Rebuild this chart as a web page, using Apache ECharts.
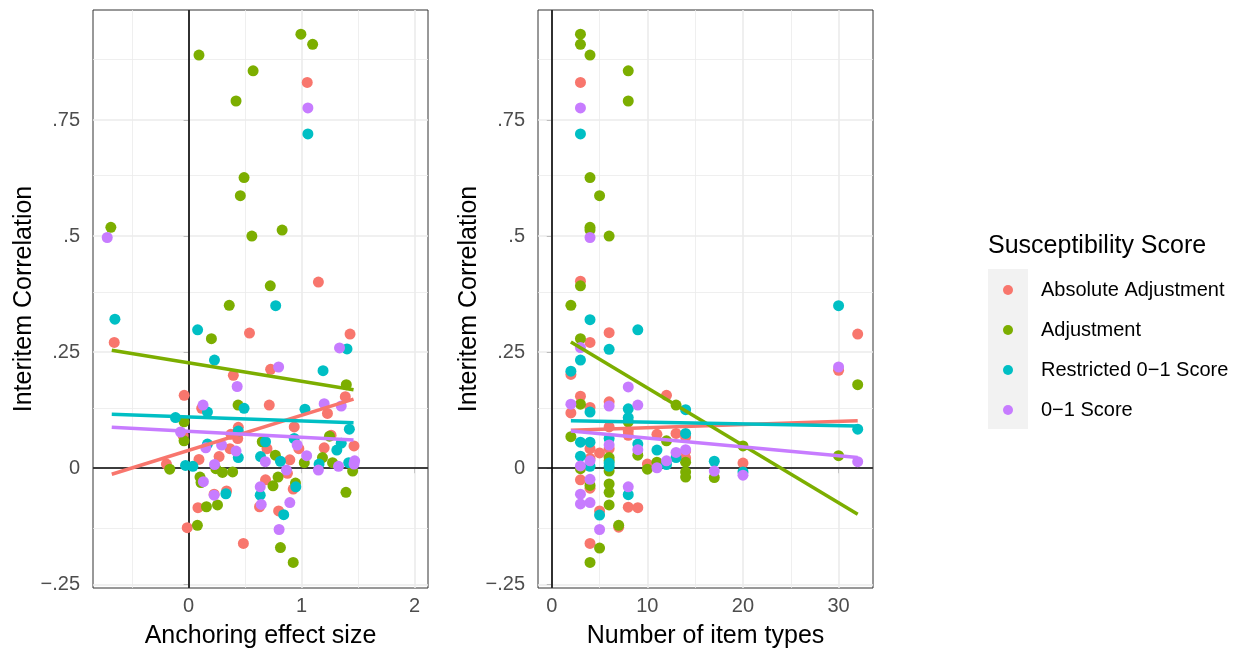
<!DOCTYPE html>
<html><head><meta charset="utf-8">
<script src="https://cdn.jsdelivr.net/npm/echarts@6/dist/echarts.min.js"></script>
<style>html,body{margin:0;padding:0;background:#fff}#c{width:1245px;height:654px}</style>
</head><body><div id="c"></div>
<script>
// ---------- DATA ----------
const seriesNames = ['Absolute Adjustment', 'Adjustment', 'Restricted 0\u22121 Score', '0\u22121 Score'];
const seriesColors = ['#F8766D', '#7CAE00', '#00BFC4', '#C77CFF'];

// Left panel: [anchoring effect size, interitem correlation]
const leftAbs = [[1.05,0.831],[1.149,0.401],[0.539,0.291],[-0.658,0.271],[1.429,0.289],[0.726,0.213],[0.396,0.2],[-0.039,0.157],[1.387,0.154],[0.714,0.136],[0.116,0.129],[1.229,0.118],[0.935,0.089],[0.44,0.088],[0.375,0.073],[-0.048,0.07],[1.261,0.071],[0.435,0.064],[1.464,0.048],[1.2,0.044],[0.366,0.042],[0.694,0.042],[0.976,0.042],[0.27,0.025],[0.092,0.019],[0.896,0.018],[-0.196,0.009],[0.875,-0.011],[0.681,-0.025],[0.926,-0.045],[0.336,-0.049],[0.226,-0.056],[0.628,-0.083],[0.083,-0.085],[0.797,-0.092],[-0.012,-0.128],[0.485,-0.162]];
const leftAdj = [[0.994,0.935],[1.098,0.913],[0.092,0.89],[0.571,0.856],[0.42,0.791],[0.491,0.626],[0.458,0.587],[-0.688,0.519],[0.828,0.513],[0.56,0.5],[0.723,0.393],[0.36,0.351],[0.202,0.279],[1.396,0.18],[0.438,0.136],[-0.04,0.1],[1.247,0.069],[-0.04,0.059],[0.652,0.057],[0.768,0.028],[1.185,0.023],[1.024,0.012],[1.274,0.012],[-0.167,-0.002],[0.241,-0.001],[1.452,-0.006],[0.3,-0.009],[0.39,-0.008],[0.101,-0.019],[0.792,-0.019],[0.11,-0.031],[0.946,-0.032],[0.747,-0.038],[1.393,-0.052],[0.158,-0.083],[0.256,-0.079],[0.078,-0.123],[0.813,-0.171],[0.926,-0.203]];
const leftRes = [[1.056,0.72],[0.771,0.35],[-0.652,0.321],[0.08,0.298],[1.402,0.257],[0.229,0.233],[1.19,0.21],[0.491,0.129],[1.03,0.127],[0.167,0.121],[-0.116,0.109],[1.423,0.084],[0.44,0.08],[0.935,0.064],[0.681,0.057],[1.351,0.054],[0.167,0.052],[1.312,0.039],[0.44,0.023],[0.637,0.025],[0.813,0.015],[1.417,0.012],[1.155,0.009],[-0.027,0.006],[0.038,0.004],[0.949,-0.04],[0.33,-0.055],[0.634,-0.058],[0.842,-0.1]];
const leftZO = [[1.056,0.776],[-0.72,0.497],[1.336,0.259],[0.797,0.218],[0.43,0.176],[1.2,0.139],[0.128,0.136],[1.351,0.134],[-0.071,0.078],[0.152,0.044],[0.292,0.05],[0.961,0.05],[0.42,0.037],[1.045,0.027],[0.679,0.014],[1.47,0.016],[1.464,0.009],[0.23,0.008],[1.327,0.004],[1.149,-0.004],[0.866,-0.004],[0.131,-0.029],[0.634,-0.04],[0.226,-0.058],[0.896,-0.074],[0.643,-0.078],[0.801,-0.132]];

// Right panel: [number of item types, interitem correlation]
const rightAbs = [[3,0.831],[3,0.403],[6,0.292],[4,0.271],[32,0.289],[30,0.211],[2,0.202],[12,0.157],[3,0.155],[6,0.143],[4,0.131],[2,0.119],[6,0.089],[8,0.08],[11,0.073],[13,0.075],[14,0.067],[8,0.071],[4,0.042],[6,0.042],[14,0.037],[5,0.033],[4,0.021],[14,0.022],[20,0.011],[10,0.009],[3,-0.025],[4,-0.043],[8,-0.084],[9,-0.085],[5,-0.092],[7,-0.127],[4,-0.162]];
const rightAdj = [[3,0.935],[3,0.913],[4,0.89],[8,0.856],[8,0.791],[4,0.626],[5,0.587],[4,0.519],[4,0.513],[6,0.5],[3,0.393],[2,0.351],[3,0.279],[32,0.18],[13,0.136],[3,0.138],[8,0.1],[2,0.068],[12,0.059],[20,0.048],[9,0.028],[30,0.027],[6,0.023],[6,0.016],[11,0.013],[14,0.013],[3,-0.001],[10,-0.002],[6,-0.006],[14,-0.008],[14,-0.019],[17,-0.02],[4,-0.037],[6,-0.034],[6,-0.052],[6,-0.079],[7,-0.123],[5,-0.172],[4,-0.203]];
const rightRes = [[3,0.72],[30,0.35],[4,0.32],[9,0.298],[6,0.256],[3,0.233],[2,0.209],[8,0.128],[14,0.126],[4,0.121],[8,0.109],[32,0.084],[14,0.075],[6,0.064],[3,0.056],[4,0.056],[9,0.052],[11,0.039],[3,0.026],[13,0.023],[17,0.015],[6,0.011],[12,0.008],[4,0.004],[6,0.004],[20,-0.008],[8,-0.057],[5,-0.101]];
const rightZO = [[3,0.776],[4,0.497],[3,0.26],[30,0.218],[8,0.175],[2,0.138],[6,0.134],[9,0.136],[6,0.05],[9,0.04],[13,0.034],[14,0.04],[4,0.016],[12,0.016],[32,0.014],[3,0.005],[11,0.001],[17,-0.006],[20,-0.015],[4,-0.024],[8,-0.04],[3,-0.056],[4,-0.074],[3,-0.077],[5,-0.132]];

// Linear fit endpoints
const fitLeftAbs = [[-0.68,-0.013],[1.46,0.149]];
const fitLeftAdj = [[-0.68,0.254],[1.46,0.169]];
const fitLeftRes = [[-0.68,0.116],[1.46,0.098]];
const fitLeftZO  = [[-0.68,0.088],[1.46,0.061]];
const fitRightAbs = [[2,0.082],[32,0.102]];
const fitRightAdj = [[2,0.272],[32,-0.099]];
const fitRightRes = [[2,0.102],[32,0.091]];
const fitRightZO  = [[2,0.080],[32,0.023]];

// Axis ticks
const yTicks = [-0.25, 0, 0.25, 0.5, 0.75];
const yTickLabels = ['\u2212.25', '0', '.25', '.5', '.75'];
const yMinor = [-0.125, 0.125, 0.375, 0.625, 0.875];
const leftXTicks = [0, 1, 2];
const leftXMinor = [-0.5, 0.5, 1.5];
const rightXTicks = [0, 10, 20, 30];
const rightXMinor = [5, 15, 25];

// ---------- CHART ----------
const FONT = '"Liberation Sans", Arial, Helvetica, sans-serif';
const chart = echarts.init(document.getElementById('c'), null, {renderer: 'canvas'});
const leftPts = [leftAbs, leftAdj, leftRes, leftZO];
const rightPts = [rightAbs, rightAdj, rightRes, rightZO];
const leftFits = [fitLeftAbs, fitLeftAdj, fitLeftRes, fitLeftZO];
const rightFits = [fitRightAbs, fitRightAdj, fitRightRes, fitRightZO];

function yAxisCfg(gi) {
  return {
    type: 'value', gridIndex: gi, min: -0.258, max: 0.987,
    axisLine: {show: false}, splitLine: {show: false},
    axisTick: {show: true, customValues: yTicks, length: 5, lineStyle: {color: '#333333', width: 1}},
    axisLabel: {customValues: yTicks, color: '#4D4D4D', fontSize: 20, margin: 13, fontFamily: FONT,
      formatter: v => { const i = yTicks.findIndex(t => Math.abs(t - v) < 1e-9); return i >= 0 ? yTickLabels[i] : ''; }},
    name: 'Interitem Correlation', nameLocation: 'middle', nameGap: 56,
    nameTextStyle: {fontSize: 25, color: '#000', fontFamily: FONT}
  };
}
function xAxisCfg(gi, min, max, ticks, name) {
  return {
    type: 'value', gridIndex: gi, min: min, max: max,
    axisLine: {show: false}, splitLine: {show: false},
    axisTick: {show: true, customValues: ticks, length: 5, lineStyle: {color: '#333333', width: 1}},
    axisLabel: {customValues: ticks, color: '#4D4D4D', fontSize: 20, margin: 8, fontFamily: FONT},
    name: name, nameLocation: 'middle', nameGap: 36,
    nameTextStyle: {fontSize: 25, color: '#000', fontFamily: FONT}
  };
}
function gridSeries(gi, xMajor, xMinor) {
  const data = [];
  yMinor.forEach(v => data.push({yAxis: v, lineStyle: {color: '#EBEBEB', width: 0.8, type: 'solid'}}));
  xMinor.forEach(v => data.push({xAxis: v, lineStyle: {color: '#EBEBEB', width: 0.8, type: 'solid'}}));
  yTicks.forEach(v => data.push({yAxis: v, lineStyle: {color: '#EBEBEB', width: 1.6, type: 'solid'}}));
  xMajor.forEach(v => data.push({xAxis: v, lineStyle: {color: '#EBEBEB', width: 1.6, type: 'solid'}}));
  return {
    type: 'line', xAxisIndex: gi, yAxisIndex: gi, data: [], silent: true, z: 1,
    markLine: {silent: true, symbol: ['none', 'none'], label: {show: false}, animation: false, z: 1,
      emphasis: {disabled: true}, data: data}
  };
}
function zeroSeries(gi) {
  return {
    type: 'line', xAxisIndex: gi, yAxisIndex: gi, data: [], silent: true, z: 2,
    markLine: {silent: true, symbol: ['none', 'none'], label: {show: false}, animation: false, z: 2,
      emphasis: {disabled: true},
      data: [{xAxis: 0, lineStyle: {color: '#000', width: 1.6, type: 'solid'}},
             {yAxis: 0, lineStyle: {color: '#000', width: 1.6, type: 'solid'}}]}
  };
}

const series = [gridSeries(0, leftXTicks, leftXMinor), gridSeries(1, rightXTicks, rightXMinor), zeroSeries(0), zeroSeries(1)];
[0, 1].forEach(gi => {
  const pts = gi === 0 ? leftPts : rightPts;
  pts.forEach((d, i) => series.push({
    type: 'scatter', name: seriesNames[i], xAxisIndex: gi, yAxisIndex: gi, data: d,
    symbolSize: 11, itemStyle: {color: seriesColors[i], opacity: 1}, z: 3, animation: false
  }));
});
[0, 1].forEach(gi => {
  const fits = gi === 0 ? leftFits : rightFits;
  fits.forEach((d, i) => series.push({
    type: 'line', name: 'fit' + gi + '_' + i, xAxisIndex: gi, yAxisIndex: gi, data: d,
    showSymbol: false, symbol: 'none', lineStyle: {color: seriesColors[i], width: 3.5}, z: 4, animation: false, silent: true
  }));
});

chart.setOption({
  animation: false,
  backgroundColor: '#fff',
  textStyle: {fontFamily: FONT},
  grid: [
    {left: 93, top: 10, width: 335, height: 580, show: true, borderColor: '#333333', borderWidth: 1, backgroundColor: 'transparent'},
    {left: 538, top: 10, width: 335, height: 580, show: true, borderColor: '#333333', borderWidth: 1, backgroundColor: 'transparent'}
  ],
  xAxis: [xAxisCfg(0, -0.846, 2.119, leftXTicks, 'Anchoring effect size'),
          xAxisCfg(1, -1.44, 33.6, rightXTicks, 'Number of item types')],
  yAxis: [yAxisCfg(0), yAxisCfg(1)],
  legend: {
    orient: 'vertical', left: 1003, top: 270, padding: 0, itemGap: 0, itemWidth: 10, itemHeight: 10,
    icon: 'circle', selectedMode: false, data: seriesNames,
    textStyle: {fontSize: 20, color: '#000', lineHeight: 40, padding: [0, 0, 0, 23], fontFamily: FONT}
  },
  graphic: [
    {type: 'rect', left: 988, top: 269, shape: {width: 40, height: 160}, style: {fill: '#F2F2F2'}, z: 0, silent: true},
    {type: 'text', left: 988, top: 234, style: {text: 'Susceptibility Score', fontSize: 25, fill: '#000', font: '25px ' + FONT}, z: 5}
  ],
  series: series
});
</script></body></html>
